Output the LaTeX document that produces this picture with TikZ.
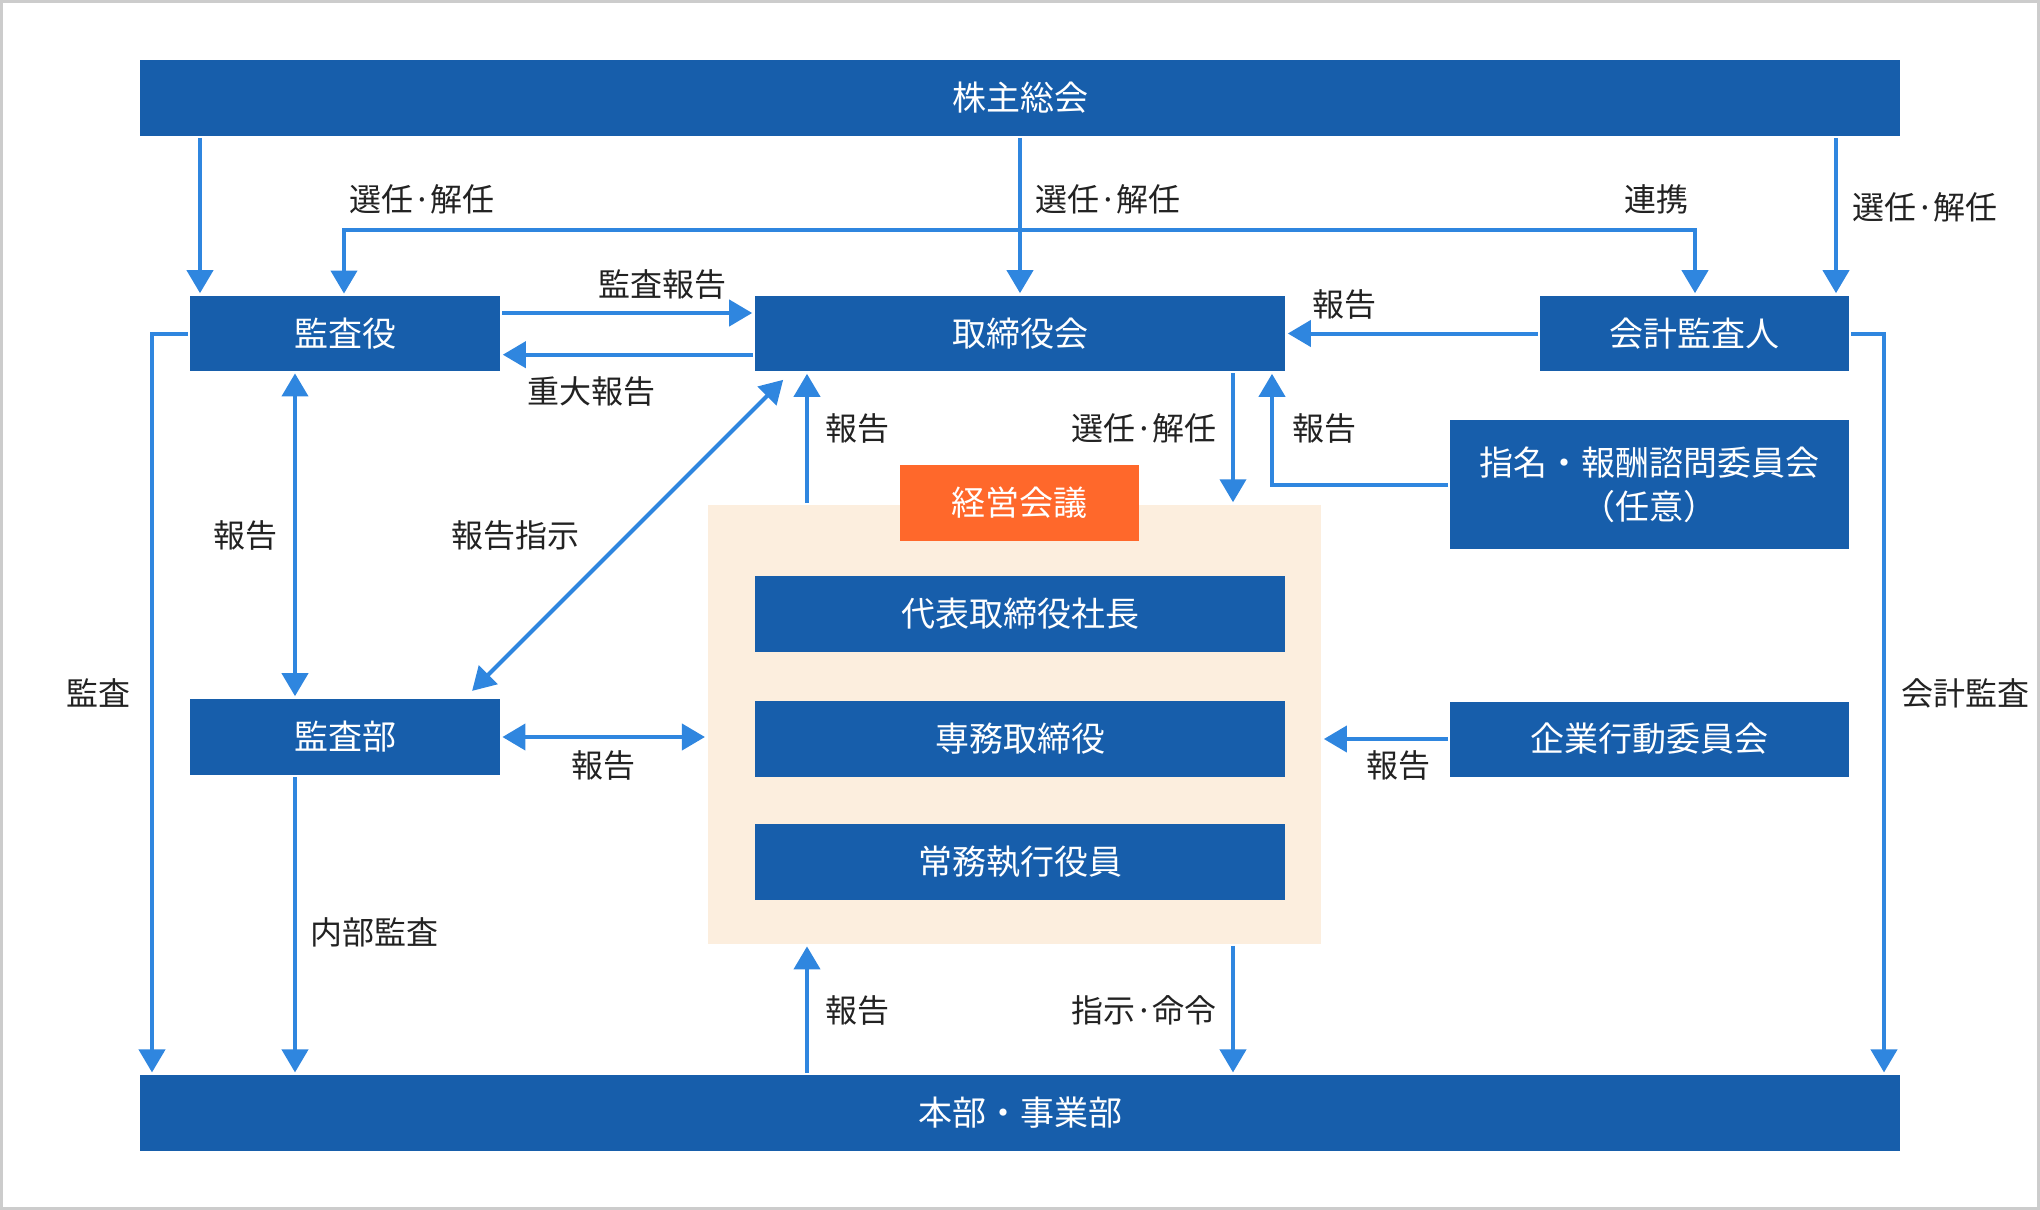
\documentclass[tikz,border=0pt]{standalone}
\usepackage{fontspec}
\setmainfont{Noto Sans CJK JP}
\usetikzlibrary{arrows.meta}
\definecolor{boxblue}{HTML}{175EAB}
\definecolor{lineblue}{HTML}{2F86DF}
\definecolor{kaigiorange}{HTML}{FF682B}
\definecolor{shikkobg}{HTML}{FCEEDE}
\definecolor{lbltext}{HTML}{222222}
\definecolor{framegray}{HTML}{CCCCCC}
\tikzstyle{org}=[fill=boxblue, text=white, inner sep=0pt, align=center, font=\fontsize{17}{22}\selectfont]
\tikzstyle{lbl}=[text=lbltext, inner sep=0pt, font=\fontsize{16}{19}\selectfont]
\tikzstyle{link}=[lineblue, line width=2pt, shorten >=1.2pt, shorten <=1pt]

\begin{document}
\begin{tikzpicture}[x=0.5pt,y=-0.5pt,>={Triangle[length=11.5pt,width=13pt]}]
\useasboundingbox (0,0) rectangle (2040,1210);
\draw[framegray, line width=1.5pt] (1.5,1.5) rectangle (2038.5,1208.5);
% boxes
\node[org, minimum width=880pt, minimum height=37.75pt] (kabunushi) at (1020,98) {株主総会};
\node[org, minimum width=155pt, minimum height=37.5pt] (kansayaku) at (345,333.5) {監査役};
\node[org, minimum width=265pt, minimum height=37.5pt] (torishimari) at (1020,333.5) {取締役会};
\node[org, minimum width=154.5pt, minimum height=37.5pt] (kaikei) at (1694.5,333.5) {会計監査人};
\node[org, minimum width=199.5pt, minimum height=64.5pt] (shimei) at (1649.5,484.5) {指名・報酬諮問委員会\\（任意）};
\node[fill=shikkobg, inner sep=0pt, minimum width=306.65pt, minimum height=219.25pt] (shikko) at (1014.4,724.3) {};
\node[org, fill=kaigiorange, minimum width=119.5pt, minimum height=38pt] (keiei) at (1019.5,503) {経営会議};
\node[org, minimum width=265pt, minimum height=38pt] (daihyo) at (1020,614) {代表取締役社長};
\node[org, minimum width=265pt, minimum height=38pt] (senmu) at (1020,739) {専務取締役};
\node[org, minimum width=265pt, minimum height=38pt] (jomu) at (1020,862) {常務執行役員};
\node[org, minimum width=155pt, minimum height=38pt] (kansabu) at (345,737) {監査部};
\node[org, minimum width=199.5pt, minimum height=37.5pt] (kigyo) at (1649.5,739) {企業行動委員会};
\node[org, minimum width=880pt, minimum height=37.75pt] (honbu) at (1020,1113) {本部・事業部};
% connectors
\path[link,->]
  (kabunushi.south -| 200,0) edge (kansayaku.north -| 200,0)
  (kabunushi.south -| 1020,0) edge (torishimari.north)
  (kabunushi.south -| 1836,0) edge (kaikei.north -| 1836,0)
  (kansayaku.east |- 0,313) edge (torishimari.west |- 0,313)
  (torishimari.west |- 0,354.7) edge (kansayaku.east |- 0,354.7)
  (kaikei.west) edge (torishimari.east)
  (shikko.north -| 807,0) edge (torishimari.south -| 807,0)
  (torishimari.south -| 1233,0) edge (shikko.north -| 1233,0)
  (kigyo.west) edge (kigyo.west -| shikko.east)
  (kansabu.south -| 295,0) edge (honbu.north -| 295,0)
  (honbu.north -| 807,0) edge (shikko.south -| 807,0)
  (shikko.south -| 1233,0) edge (honbu.north -| 1233,0);
\path[link,<->]
  (kansayaku.south -| 295,0) edge (kansabu.north -| 295,0)
  (kansabu.east) edge (kansabu.east -| shikko.west)
  ([shift={(30,7)}]torishimari.south west) edge ([shift={(-30,-6)}]kansabu.north east);
\draw[link,<->] (kansayaku.north -| 344,0) |- (1695,229.6) -- (kaikei.north -| 1695,0);
\draw[link,->] (kansayaku.west) -| (honbu.north -| 152,0);
\draw[link,->] (kaikei.east) -| (honbu.north -| 1884,0);
\draw[link,->] (shimei.west) -| (torishimari.south -| 1272,0);
% labels
\node[lbl] (lSenninA) at (422,199) {選任·解任};
\node[lbl] (lSenninB) at (1108,199) {選任·解任};
\node[lbl] (lRenkei) at (1656,199) {連携};
\node[lbl] (lSenninC) at (1925,207) {選任·解任};
\node[lbl] (lKansaHokoku) at (662,284) {監査報告};
\node[lbl] (lJudai) at (591,391) {重大報告};
\node[lbl] (lHokokuKaikei) at (1344,304) {報告};
\node[lbl] (lKansa) at (98,693) {監査};
\node[lbl] (lHokokuL) at (245,535) {報告};
\node[lbl] (lShiji) at (515,535) {報告指示};
\node[lbl] (lHokokuUp) at (857,428) {報告};
\node[lbl] (lSenninD) at (1144,428) {選任·解任};
\node[lbl] (lHokokuShimei) at (1324,428) {報告};
\node[lbl] (lHokokuBu) at (603,765) {報告};
\node[lbl] (lHokokuKigyo) at (1398,765) {報告};
\node[lbl] (lNaibu) at (374,932) {内部監査};
\node[lbl] (lHokokuHonbu) at (857,1010) {報告};
\node[lbl] (lMeirei) at (1144,1010) {指示·命令};
\node[lbl] (lKaikeiKansa) at (1965,693) {会計監査};
\end{tikzpicture}
\end{document}
